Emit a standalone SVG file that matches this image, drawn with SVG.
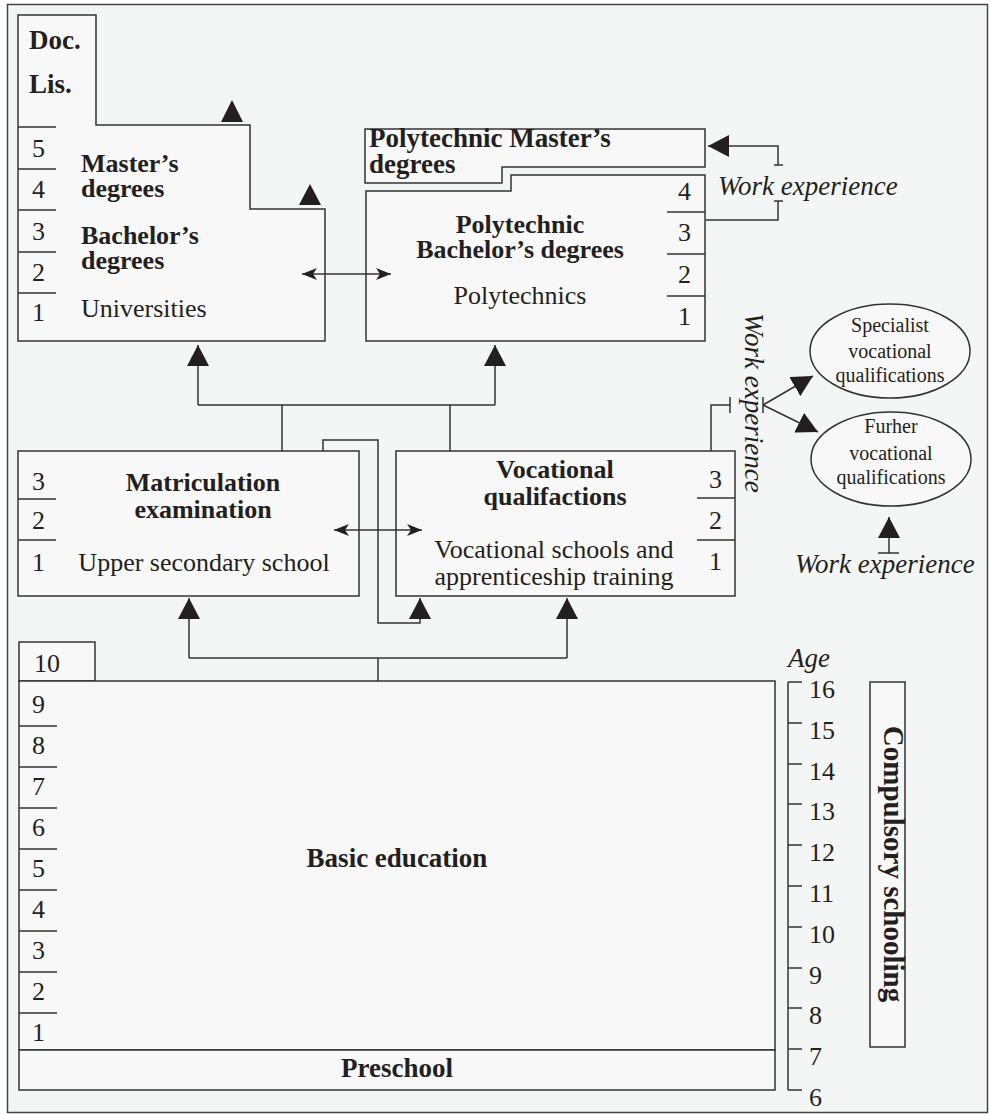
<svg xmlns="http://www.w3.org/2000/svg" width="990" height="1114" viewBox="0 0 990 1114">
<style>
.box{fill:#f8f8f8;stroke:#333;stroke-width:1.5}
.ln{fill:none;stroke:#333;stroke-width:1.5}
text{font-family:'Liberation Serif','Times New Roman',Times,serif;fill:#231f20;font-size:26px}
.b{font-weight:bold;font-size:26px}
.b7{font-size:27px}
.i{font-style:italic;font-size:27px}
.s{font-size:20px}
.m{text-anchor:middle}
.tri{fill:#231f20}
</style>
<defs>
<marker id="tri" markerUnits="userSpaceOnUse" markerWidth="22" markerHeight="22" refX="21" refY="11" orient="auto">
<path d="M0,0 L21,11 L0,22 z" fill="#231f20"/>
</marker>
<marker id="opn" markerUnits="userSpaceOnUse" markerWidth="16" markerHeight="12" refX="15" refY="6" orient="auto-start-reverse">
<path d="M0,0 L15,6 L0,12 L4,6 z" fill="#231f20"/>
</marker>
</defs>
<rect x="0" y="0" width="990" height="1114" fill="#fff"/>
<rect x="7.5" y="4.5" width="980" height="1108" fill="#f4f6f6" stroke="#444" stroke-width="1.5"/>
<g font-family="Liberation Serif, serif">
<g id="universities">
<path class="box" d="M18,15 H96 V125 H250 V209 H325 V341 H18 Z"/>
<path class="ln" d="M18,127 H56 M18,169 H56 M18,210 H56 M18,252 H56 M18,293 H56"/>
<text class="b b7" x="29" y="49">Doc.</text>
<text class="b b7" x="29" y="93">Lis.</text>
<text x="32" y="157">5</text>
<text x="32" y="198">4</text>
<text x="32" y="240">3</text>
<text x="32" y="281">2</text>
<text x="32" y="321">1</text>
<text class="b" x="81" y="172">Master’s</text>
<text class="b" x="81" y="197">degrees</text>
<text class="b" x="81" y="244">Bachelor’s</text>
<text class="b" x="81" y="269">degrees</text>
<text x="81" y="317">Universities</text>
</g>

<g id="poly-master">
<path class="box" d="M365,129 H705 V167 H502 V183 H365 Z"/>
<text class="b b7" x="369" y="147">Polytechnic Master’s</text>
<text class="b b7" x="369" y="173">degrees</text>
</g>

<g id="polytechnics">
<path class="box" d="M366,191 H511 V175 H705 V341 H366 Z"/>
<path class="ln" d="M667,212 H705 M667,254 H705 M667,296 H705"/>
<text x="678" y="200">4</text>
<text x="678" y="241">3</text>
<text x="678" y="283">2</text>
<text x="678" y="325">1</text>
<text class="b m" x="520" y="233">Polytechnic</text>
<text class="b m" x="520" y="258">Bachelor’s degrees</text>
<text class="m" x="520" y="304">Polytechnics</text>
</g>

<g id="matriculation">
<rect class="box" x="18" y="451" width="341" height="145"/>
<path class="ln" d="M18,499 H56 M18,540 H56"/>
<text x="32" y="490">3</text>
<text x="32" y="529">2</text>
<text x="32" y="571">1</text>
<text class="b m" x="203" y="491">Matriculation</text>
<text class="b m" x="203" y="518">examination</text>
<text class="m" x="204" y="571">Upper secondary school</text>
</g>

<g id="vocational">
<rect class="box" x="396" y="451" width="339" height="145"/>
<path class="ln" d="M697,498 H735 M697,540 H735"/>
<text x="709" y="488">3</text>
<text x="709" y="529">2</text>
<text x="709" y="570">1</text>
<text class="b m" x="555" y="478">Vocational</text>
<text class="b m" x="555" y="505">qualifactions</text>
<text class="m" x="554" y="558">Vocational schools and</text>
<text class="m" x="554" y="585">apprenticeship training</text>
</g>

<g id="specialist">
<ellipse class="box" cx="890" cy="351" rx="80" ry="47"/>
<text class="s m" x="890" y="332">Specialist</text>
<text class="s m" x="890" y="358">vocational</text>
<text class="s m" x="890" y="382">qualifications</text>
</g>

<g id="further">
<ellipse class="box" cx="891" cy="459" rx="80" ry="47"/>
<text class="s m" x="891" y="433">Furher</text>
<text class="s m" x="891" y="460">vocational</text>
<text class="s m" x="891" y="484">qualifications</text>
</g>

<g id="basic">
<rect class="box" x="19" y="642" width="76" height="39"/>
<rect class="box" x="19" y="681" width="756" height="369"/>
<path class="ln" d="M19,726 H57 M19,767 H57 M19,808 H57 M19,849 H57 M19,890 H57 M19,931 H57 M19,972 H57 M19,1013 H57"/>
<text x="34" y="672">10</text>
<text x="32" y="713">9</text>
<text x="32" y="754">8</text>
<text x="32" y="795">7</text>
<text x="32" y="836">6</text>
<text x="32" y="877">5</text>
<text x="32" y="918">4</text>
<text x="32" y="959">3</text>
<text x="32" y="1000">2</text>
<text x="32" y="1041">1</text>
<text class="b b7 m" x="397" y="867">Basic education</text>
</g>

<g id="preschool">
<rect class="box" x="19" y="1050" width="756" height="40"/>
<text class="b b7 m" x="397" y="1077">Preschool</text>
</g>

<g id="age-axis">
<text class="i" x="788" y="667">Age</text>
<path class="ln" d="M788,682 V1090 M788,682 H802 M788,723 H802 M788,764 H802 M788,804 H802 M788,845 H802 M788,886 H802 M788,927 H802 M788,968 H802 M788,1008 H802 M788,1049 H802 M788,1090 H802"/>
<text x="809" y="698">16</text>
<text x="809" y="739">15</text>
<text x="809" y="780">14</text>
<text x="809" y="820">13</text>
<text x="809" y="861">12</text>
<text x="809" y="902">11</text>
<text x="809" y="943">10</text>
<text x="809" y="984">9</text>
<text x="809" y="1024">8</text>
<text x="809" y="1065">7</text>
<text x="809" y="1106">6</text>
</g>

<g id="compulsory">
<rect class="box" x="870" y="682" width="35" height="365"/>
<text class="b m" style="font-size:29px" transform="translate(884,864) rotate(90)">Compulsory schooling</text>
</g>

<g id="work-labels">
<text class="i" x="718" y="195">Work experience</text>
<text class="i" transform="translate(745,313) rotate(90)">Work experience</text>
<text class="i" x="795" y="573">Work experience</text>
</g>
</g>
<g id="connectors">
<polygon class="tri" points="232,100 243,122 221,122"/>
<polygon class="tri" points="310,184 321,205 299,205"/>
<line class="ln" x1="302" y1="274" x2="391" y2="274" marker-start="url(#opn)" marker-end="url(#opn)"/>
<line class="ln" x1="334" y1="530" x2="422" y2="530" marker-start="url(#opn)" marker-end="url(#opn)"/>
<path class="ln" d="M198,405 H495 M282,405 V451 M450,405 V451"/>
<line class="ln" x1="198" y1="405" x2="198" y2="345" marker-end="url(#tri)"/>
<line class="ln" x1="495" y1="405" x2="495" y2="345" marker-end="url(#tri)"/>
<polyline class="ln" points="323,451 323,440 378,440 378,623 420,623 420,598" marker-end="url(#tri)"/>
<path class="ln" d="M189,658 H567 M378,658 V681"/>
<line class="ln" x1="189" y1="658" x2="189" y2="598" marker-end="url(#tri)"/>
<line class="ln" x1="567" y1="658" x2="567" y2="598" marker-end="url(#tri)"/>
<polyline class="ln" points="778,165 778,146 708,146" marker-end="url(#tri)"/>
<path class="ln" d="M774,165 H783 M774,201 H783 M778,201 V220 H706"/>
<path class="ln" d="M711,451 V405 H730 M730,397 V413 M763,397 V413"/>
<line class="ln" x1="763" y1="405" x2="813" y2="376" marker-end="url(#tri)"/>
<line class="ln" x1="763" y1="405" x2="818" y2="432" marker-end="url(#tri)"/>
<line class="ln" x1="889" y1="553" x2="889" y2="517" marker-end="url(#tri)"/>
<path class="ln" d="M878,553 H899"/>
</g>
</svg>
